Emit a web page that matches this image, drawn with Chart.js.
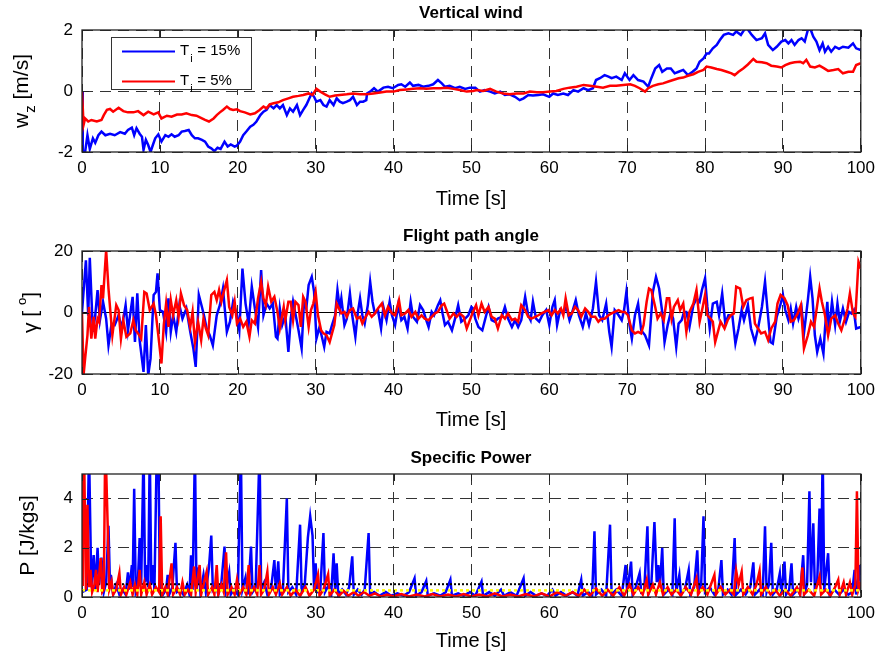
<!DOCTYPE html>
<html>
<head>
<meta charset="utf-8">
<script src="https://cdn.jsdelivr.net/npm/chart.js@4.4.1/dist/chart.umd.min.js"></script>
<style>
  html, body { margin: 0; padding: 0; background: #fff; }
  #wrap { position: relative; width: 881px; height: 661px; }
  canvas { position: absolute; left: 0; }
</style>
</head>
<body>
<div id="wrap">
  <canvas id="c1" width="881" height="220" style="top:0px"></canvas>
  <canvas id="c2" width="881" height="220" style="top:220px"></canvas>
  <canvas id="c3" width="881" height="221" style="top:440px"></canvas>
</div>
<script>
// ---- data: [time s, value] ----
const timeTicks = [0, 10, 20, 30, 40, 50, 60, 70, 80, 90, 100];
const windTicks = [-2, 0, 2];
const gammaTicks = [-20, 0, 20];
const powerTicks = [0, 2, 4];
const seriesLabels = ['15%', '5%'];

// vertical wind w_z [m/s]
const windBlue = [[0,0],[0.1,-2],[0.4,-2],[0.7,-1.45],[1.0,-1.9],[1.4,-1.55],[1.7,-1.7],[2.1,-1.45],[2.5,-1.33],[3.0,-1.45],[3.6,-1.4],[4.2,-1.45],[4.9,-1.35],[5.5,-1.4],[5.9,-1.28],[6.4,-1.2],[6.7,-1.45],[7.0,-1.22],[7.4,-1.4],[7.7,-1.5],[7.9,-1.93],[8.2,-1.6],[8.5,-1.77],[8.8,-2],[9.1,-1.77],[9.4,-1.55],[9.8,-1.42],[10.2,-1.66],[10.7,-1.45],[11.1,-1.5],[11.5,-1.42],[11.9,-1.5],[12.4,-1.45],[12.8,-1.33],[13.2,-1.31],[13.7,-1.28],[14.1,-1.45],[14.5,-1.55],[14.9,-1.55],[15.4,-1.6],[15.8,-1.66],[16.2,-1.82],[16.6,-1.88],[17.0,-1.97],[17.4,-1.86],[17.8,-1.9],[18.3,-1.66],[18.7,-1.82],[19.1,-1.75],[19.6,-1.82],[19.9,-1.79],[20.3,-1.66],[20.7,-1.45],[21.1,-1.33],[21.6,-1.17],[22.0,-1.11],[22.4,-1.0],[22.9,-0.79],[23.3,-0.68],[23.7,-0.62],[24.1,-0.46],[24.6,-0.57],[25.0,-0.46],[25.4,-0.57],[25.8,-0.46],[26.3,-0.79],[26.7,-0.57],[27.1,-0.68],[27.6,-0.46],[28.0,-0.79],[28.4,-0.62],[28.8,-0.46],[29.2,-0.24],[29.5,-0.08],[29.8,-0.19],[30.1,-0.35],[30.6,-0.3],[31.0,-0.46],[31.4,-0.51],[31.8,-0.3],[32.3,-0.46],[32.7,-0.24],[33.1,-0.35],[33.5,-0.4],[34.0,-0.35],[34.4,-0.3],[34.8,-0.19],[35.3,-0.46],[35.7,-0.35],[36.1,-0.35],[36.5,-0.3],[36.6,-0.08],[37.1,0.0],[37.5,0.09],[38.0,-0.02],[38.7,0.11],[39.3,0.14],[39.9,0.09],[40.6,0.2],[41.0,0.22],[41.5,0.14],[42.1,0.28],[42.5,0.17],[43.2,0.2],[43.8,0.14],[44.5,0.17],[45.1,0.22],[45.7,0.36],[46.2,0.25],[46.6,0.14],[47.2,0.17],[47.9,0.09],[48.5,0.14],[49.2,0.07],[49.8,0.11],[50.5,0.11],[51.1,-0.02],[51.7,0.03],[52.4,-0.02],[53.0,-0.08],[53.7,-0.02],[54.3,-0.13],[54.9,-0.11],[55.6,-0.19],[56.2,-0.3],[56.7,-0.24],[57.3,-0.13],[57.9,-0.15],[58.6,-0.13],[59.2,-0.11],[60.0,-0.19],[60.5,-0.08],[61.1,-0.13],[61.8,-0.08],[62.4,-0.13],[63.1,0.03],[63.7,-0.02],[64.4,0.09],[65.0,0.03],[65.6,0.09],[66.0,0.36],[66.5,0.42],[67.1,0.52],[67.6,0.47],[68.0,0.42],[68.6,0.47],[69.3,0.36],[69.7,0.58],[70.3,0.36],[70.8,0.52],[71.4,0.36],[72.1,0.31],[72.7,0.14],[73.1,0.42],[73.6,0.74],[74.1,0.85],[74.5,0.63],[75.1,0.74],[75.6,0.74],[76.1,0.58],[76.6,0.63],[77.2,0.69],[77.8,0.52],[78.4,0.63],[78.9,0.74],[79.3,0.96],[79.8,1.07],[80.2,1.23],[80.5,1.23],[81.0,1.4],[81.5,1.51],[81.9,1.67],[82.4,1.84],[83.0,1.89],[83.6,1.84],[84.0,1.95],[84.6,1.84],[85.0,2.0],[85.4,2.05],[86.0,1.84],[86.6,1.67],[87.3,1.73],[87.7,1.89],[88.1,1.51],[88.7,1.34],[89.2,1.45],[89.8,1.62],[90.3,1.67],[90.7,1.56],[91.1,1.67],[91.5,1.51],[92.0,1.67],[92.4,1.73],[92.8,1.62],[93.2,2.0],[93.5,2.05],[93.9,1.78],[94.3,1.62],[94.7,1.34],[95.1,1.56],[95.4,1.29],[95.8,1.45],[96.2,1.29],[96.7,1.45],[97.2,1.38],[97.7,1.45],[98.4,1.42],[99.0,1.56],[99.4,1.4],[100,1.34]];
const windRed = [[0,0],[0.2,-1.11],[0.4,-0.9],[0.8,-1.0],[1.2,-0.95],[1.9,-1.0],[2.5,-0.95],[2.8,-0.79],[3.2,-0.62],[3.6,-0.59],[4.0,-0.68],[4.7,-0.55],[5.3,-0.66],[5.9,-0.7],[6.6,-0.7],[7.2,-0.66],[7.9,-0.79],[8.5,-0.68],[9.2,-0.77],[9.8,-0.7],[10.2,-0.9],[10.9,-0.81],[11.5,-0.84],[12.2,-0.77],[12.8,-0.77],[13.4,-0.73],[14.1,-0.79],[14.7,-0.81],[15.4,-0.9],[15.8,-0.95],[16.3,-1.0],[16.9,-0.9],[17.3,-0.79],[17.7,-0.7],[18.1,-0.62],[18.6,-0.51],[19.0,-0.59],[19.4,-0.62],[19.9,-0.6],[20.3,-0.66],[20.9,-0.7],[21.6,-0.77],[22.2,-0.73],[22.8,-0.62],[23.3,-0.51],[23.7,-0.57],[24.1,-0.44],[24.6,-0.4],[25.2,-0.37],[25.8,-0.3],[26.5,-0.24],[27.1,-0.19],[27.8,-0.16],[28.4,-0.13],[29.1,-0.08],[29.6,-0.13],[30.1,0.07],[30.6,-0.02],[31.2,-0.11],[31.8,-0.19],[32.5,-0.15],[33.1,-0.13],[34.0,-0.11],[34.8,-0.08],[35.7,-0.11],[36.5,-0.11],[37.4,-0.08],[38.3,-0.05],[39.1,-0.02],[40.0,-0.02],[40.8,0.03],[41.7,0.05],[42.5,0.07],[43.4,0.09],[44.2,0.07],[45.1,0.09],[46.0,0.09],[46.8,0.11],[47.7,0.07],[48.5,0.03],[49.4,-0.02],[50.2,0.0],[50.7,0.03],[51.5,0.0],[52.4,0.07],[53.2,-0.02],[54.1,-0.08],[54.9,-0.11],[55.8,-0.08],[56.7,-0.08],[57.5,-0.02],[58.4,-0.04],[59.2,-0.04],[60.1,-0.02],[60.9,0.0],[61.8,0.07],[62.6,0.11],[63.5,0.14],[64.4,0.2],[65.2,0.17],[66.1,0.14],[66.9,0.11],[67.8,0.17],[68.6,0.17],[69.5,0.2],[70.4,0.22],[71.0,0.17],[71.6,0.09],[72.3,-0.02],[72.7,0.09],[73.3,0.17],[74.0,0.22],[74.6,0.25],[75.3,0.31],[75.9,0.36],[76.6,0.42],[77.2,0.44],[77.8,0.5],[78.5,0.55],[79.1,0.63],[79.8,0.69],[80.2,0.8],[80.8,0.77],[81.5,0.72],[82.1,0.69],[82.8,0.63],[83.4,0.58],[83.8,0.52],[84.3,0.63],[84.9,0.74],[85.5,0.87],[86.2,1.05],[86.6,0.96],[87.3,0.94],[87.9,0.91],[88.5,0.83],[89.2,0.8],[89.8,0.77],[90.3,0.85],[90.9,0.91],[91.5,0.94],[92.2,0.96],[92.6,0.91],[93.0,1.02],[93.5,0.8],[94.1,0.77],[94.7,0.83],[95.3,0.74],[95.8,0.66],[96.5,0.69],[97.1,0.72],[97.7,0.58],[98.4,0.63],[99.0,0.63],[99.4,0.85],[100,0.91]];

// flight path angle gamma [deg]
const gammaBlue = [[0,0],[0.5,17],[0.8,-1],[1.0,17.8],[1.4,-6.3],[1.7,-0.9],[2.0,7.3],[2.3,-2.5],[2.7,3.5],[3.1,-2],[3.4,-10.7],[3.8,-3.6],[4.2,-4.1],[4.7,-0.9],[5.1,-5.2],[5.6,2.4],[5.9,-5.8],[6.5,5.1],[6.8,-9.6],[7.1,6.2],[7.4,-9],[7.9,-19.3],[8.2,-4.1],[8.5,-20.4],[8.8,-15],[9.2,5.7],[9.5,6.7],[9.7,12.7],[10.0,0.8],[10.4,0.2],[10.8,-6.3],[11.1,4.6],[11.4,-6.3],[11.7,-0.9],[12.1,-6.3],[12.5,2.4],[12.9,-2],[13.4,1.3],[13.9,-6.3],[14.3,-11.7],[14.6,-17.7],[15.0,5.7],[15.4,1.8],[15.7,-1.4],[16.0,-5.2],[16.4,-7.4],[16.8,-10.7],[17.3,-0.9],[17.7,2.4],[18.1,7.8],[18.6,-6.3],[19.0,-3],[19.4,3.5],[19.9,-0.9],[20.2,-5.8],[20.6,14.3],[21.0,2.9],[21.4,-3.6],[21.8,8.4],[22.2,1.3],[22.6,-4.7],[23.0,13.8],[23.3,-0.9],[23.7,2.9],[24.1,1.3],[24.5,2.9],[24.9,-7.9],[25.1,-8.5],[25.4,1.3],[25.7,-4.1],[26.1,-0.9],[26.5,-12.8],[26.8,-2],[27.1,3.5],[27.6,-3],[27.8,-5.8],[28.2,-11.7],[28.5,3.5],[28.8,1.3],[29.1,8.9],[29.5,11.6],[29.8,6.7],[30.1,-8.5],[30.5,-4.7],[30.8,-7.9],[31.1,-11.2],[31.4,-6.3],[31.8,-6.8],[32.1,-4.1],[32.5,-0.9],[32.8,7.3],[33.1,1.3],[33.3,4.6],[33.7,-4.1],[34.0,-2],[34.4,6.2],[34.7,-0.9],[35.1,-7.9],[35.4,-0.3],[35.7,4.6],[36.0,-0.9],[36.3,-3.6],[36.7,2.4],[37.0,10],[37.3,3.5],[37.6,-0.3],[38.0,0.8],[38.4,-5.2],[38.7,1.8],[39.1,-2.5],[39.5,3.5],[39.8,-0.9],[40.2,-4.1],[40.6,2.4],[41.0,-2.5],[41.4,-1.4],[41.8,-5.2],[42.2,3.5],[42.5,-1.4],[43.0,-3],[43.4,2.4],[43.8,0.8],[44.2,-2.5],[44.5,-4.7],[44.9,0.2],[45.2,-0.9],[45.7,2.4],[46.0,4],[46.3,-0.3],[46.6,-4.1],[47.0,-3],[47.5,-5.8],[47.9,-2],[48.3,2.4],[48.7,-3],[49.2,-2],[49.6,-0.9],[50.0,1.8],[50.2,1.3],[50.5,-2],[50.9,-4.7],[51.4,-5.8],[51.9,-0.9],[52.2,1.8],[52.6,-2.5],[53.0,-3],[53.4,-2],[53.9,-1.4],[54.3,1.8],[54.7,-2],[55.2,-4.7],[55.6,-2.5],[56.0,-4.7],[56.4,-2.5],[56.9,5.1],[57.3,-0.9],[57.6,-2.5],[57.9,3.5],[58.3,-2],[58.7,-3],[59.1,-0.9],[59.6,0.8],[60.0,-4.1],[60.4,1.8],[60.7,4],[61.0,-4.1],[61.4,0.8],[61.8,-0.3],[62.2,1.8],[62.6,-2.5],[62.9,-0.3],[63.4,4],[63.8,-0.9],[64.3,-4.7],[64.7,-0.3],[65.1,-4.1],[65.6,1.3],[66.0,10],[66.4,-0.9],[66.8,-2.5],[67.3,2.9],[67.7,-6.3],[68.0,-11.2],[68.4,0.8],[68.9,-0.9],[69.3,-2.5],[69.6,0.8],[69.9,6.7],[70.3,-4.1],[70.6,-8.5],[71.0,-0.9],[71.4,2.9],[71.8,-5.8],[72.3,-7.4],[72.8,-10.7],[73.3,6.7],[73.7,11.6],[74.1,7.8],[74.5,0.2],[74.8,-9.6],[75.2,-4.1],[75.6,0.2],[75.9,-2],[76.3,-11.2],[76.6,-3.6],[77.0,-2.5],[77.3,0.2],[77.6,0.2],[78.0,-4.7],[78.5,2.4],[78.9,4.6],[79.3,3.5],[79.6,7.3],[80.0,11.1],[80.3,1.8],[80.6,-5.2],[81.0,2.9],[81.5,3.5],[81.8,-0.9],[82.2,6.2],[82.6,-3.6],[83.0,-0.9],[83.5,-0.9],[83.9,-10.1],[84.3,-5.2],[84.7,0.8],[85.0,-2.5],[85.5,2.4],[85.9,-5.2],[86.4,-9.6],[86.8,-5.2],[87.3,1.8],[87.7,10],[88.0,1.3],[88.4,-9.6],[88.7,-10.1],[89.2,-1.4],[89.6,1.8],[90.0,5.7],[90.3,0.8],[90.7,-2.5],[91.0,1.3],[91.3,-3.6],[91.7,1.8],[92.0,-2],[92.4,1.3],[92.7,-6.8],[93.2,4],[93.5,11.6],[93.8,4.6],[94.1,-7.4],[94.4,-12.8],[94.8,-8.5],[95.2,-13.4],[95.4,-5.2],[95.7,3.5],[95.9,-6.3],[96.3,3.5],[96.7,-4.1],[97.0,2.9],[97.3,-3],[97.7,1.3],[98.1,-3],[98.5,0.2],[98.8,-0.3],[99.1,0.8],[99.4,-5.2],[100,-4.7]];
const gammaRed = [[0,0],[0.2,-20.4],[0.4,-15],[0.7,-7.4],[0.9,1.8],[1.2,-8.5],[1.5,-1.4],[1.7,-8.5],[2.0,-2],[2.2,-3],[2.5,8.9],[2.7,4.6],[3.1,20.3],[3.4,7.8],[3.7,-1.4],[3.9,-7.4],[4.4,2.4],[4.7,0.8],[5.0,-8.5],[5.3,-2.5],[5.7,-7.9],[6.2,-6.8],[6.6,-2.5],[6.9,-5.8],[7.2,-6.8],[7.6,-8.5],[8.0,6.7],[8.3,6.2],[8.7,0.8],[9.2,2.9],[9.5,-0.9],[9.8,-7.4],[10.2,-16.6],[10.5,-4.1],[10.8,2.9],[11.1,-4.7],[11.4,4],[11.7,-0.9],[12.1,4],[12.4,-1.4],[12.7,6.2],[13.1,2.4],[13.5,0.8],[13.9,-4.7],[14.2,0.2],[14.5,-9.6],[14.9,-3],[15.3,-9],[15.6,-2],[15.9,-5.2],[16.2,-7.4],[16.6,5.7],[17.0,6.7],[17.3,4],[17.6,7.3],[17.9,3.5],[18.2,6.7],[18.6,10.5],[18.9,1.8],[19.3,-0.9],[19.6,3.5],[19.9,-3.6],[20.3,-2],[20.7,-4.7],[21.1,-3],[21.5,-7.9],[21.8,-2.5],[22.2,-3.6],[22.6,4.6],[23.0,10],[23.3,4.6],[23.6,2.4],[23.9,8.4],[24.3,3.5],[24.7,5.1],[25.1,0.2],[25.4,-5.2],[25.9,1.8],[26.1,-2.5],[26.5,3.5],[26.8,3.5],[27.1,-2.5],[27.4,3.5],[27.8,2.4],[28.1,-4.7],[28.4,5.1],[28.7,3.5],[29.1,-4.7],[29.4,0.8],[29.7,2.9],[30.0,6.7],[30.3,-0.9],[30.7,-5.8],[31.0,-6.8],[31.4,-7.4],[31.8,-9.6],[32.1,-6.8],[32.4,-4.1],[32.7,2.9],[33.0,1.3],[33.3,-0.3],[33.7,0.2],[34.0,-1.4],[34.4,0.8],[34.8,1.3],[35.3,-2],[35.7,-1.4],[36.0,-3.6],[36.3,-2],[36.8,0.2],[37.2,-1.4],[37.6,-0.3],[38.0,1.3],[38.5,2.9],[38.9,-0.9],[39.3,1.8],[39.8,-0.3],[40.2,-0.9],[40.7,4],[41.0,-0.9],[41.5,-0.3],[41.9,0.8],[42.3,-1.4],[42.8,0.2],[43.2,-2],[43.6,-0.9],[44.0,-2],[44.5,-2.5],[44.9,-1.4],[45.3,-0.3],[45.7,0.2],[46.2,2.4],[46.5,2.9],[46.8,0.8],[47.2,-2],[47.7,-0.3],[48.1,-1.4],[48.5,-0.3],[49.0,-1.4],[49.4,-5.2],[49.8,-2.5],[50.2,0.2],[50.6,2.4],[50.9,-0.9],[51.3,2.9],[51.7,0.2],[52.2,1.8],[52.6,-1.4],[53.0,-2],[53.4,-5.2],[53.9,-0.9],[54.3,-2],[54.7,-0.3],[55.2,-2.5],[55.6,-2],[56.0,-3],[56.4,2.4],[56.9,0.8],[57.3,-1.4],[57.7,-2],[58.2,-1.4],[58.6,-0.9],[59.0,-0.3],[59.4,0.2],[59.9,0.8],[60.3,-0.9],[60.7,0.8],[61.1,-0.3],[61.5,1.3],[61.8,-0.9],[62.1,4.6],[62.5,-0.9],[62.9,-0.3],[63.3,1.8],[63.7,0.8],[64.1,-1.4],[64.6,1.3],[65.0,0.2],[65.4,-1.4],[65.9,-1.4],[66.3,-3],[66.7,-2],[67.1,-2],[67.6,-0.9],[68.0,-0.3],[68.4,0.2],[68.9,0.8],[69.3,0.2],[69.7,0.2],[70.1,-0.9],[70.6,-5.8],[71.0,-6.8],[71.4,-6.3],[71.8,-6.8],[72.1,-4.1],[72.5,3.5],[72.8,7.8],[73.1,7.3],[73.6,1.8],[73.9,-2],[74.3,-0.3],[74.7,-2.5],[75.1,4.6],[75.4,4.6],[75.7,-2],[76.0,1.8],[76.5,4],[76.8,0.8],[77.2,2.9],[77.6,-6.3],[78.0,0.2],[78.5,2.9],[78.9,7.3],[79.3,-3],[79.7,1.8],[80.0,5.7],[80.3,-0.9],[80.7,-2],[81.0,-3],[81.3,-9.6],[81.7,-5.8],[82.0,-3],[82.5,-5.2],[82.9,-2.5],[83.3,-0.9],[83.7,-0.3],[84.0,8.4],[84.5,7.8],[84.9,1.8],[85.3,4],[85.8,4.6],[86.1,4.8],[86.4,-3.6],[86.8,-5.2],[87.2,-6.8],[87.7,-6.3],[88.1,-9],[88.5,-5.2],[89.0,-3],[89.3,2.9],[89.7,5.7],[90.2,4.6],[90.6,2.4],[91.0,-3],[91.4,-2.5],[91.9,-0.3],[92.3,2.4],[92.7,-11.7],[93.2,-7.4],[93.6,-3],[94.0,-4.7],[94.4,2.4],[94.7,7.8],[95.0,3.5],[95.4,-0.9],[95.8,-7.4],[96.2,-2],[96.7,-0.9],[97.1,-3.6],[97.5,-5.8],[97.9,-2.5],[98.3,1.3],[98.6,6.2],[99.0,-0.3],[99.3,-1.4],[99.7,16.5],[100,14.3]];

// specific power P [J/kgs]
const powerBlue = [[0,0.2],[0.6,0.3],[0.9,6],[1.2,0.4],[1.5,1.7],[1.7,0.3],[2.0,2.0],[2.2,0.5],[2.5,1.6],[2.8,0.2],[3.1,0.6],[3.4,2.9],[3.6,0.4],[3.7,0.9],[4.0,0.1],[4.4,0.5],[4.8,0.1],[5.2,0.3],[5.6,0.1],[5.9,1.0],[6.1,0.3],[6.4,1.3],[6.5,0.4],[6.7,4.4],[6.9,0.3],[7.2,0.8],[7.4,2.4],[7.6,0.5],[7.9,6],[8.1,0.6],[8.3,1.3],[8.5,0.4],[8.7,6],[8.9,0.5],[9.1,1.3],[9.3,0.3],[9.6,6],[9.8,6],[10.0,0.3],[10.4,0.1],[10.8,0.3],[11.0,0.9],[11.2,0.1],[11.6,0.4],[12.0,2.2],[12.2,0.2],[12.6,0.3],[13.0,0.1],[13.5,0.5],[13.8,0.1],[14.0,1.7],[14.2,0.3],[14.5,6],[14.7,0.3],[15.0,1.2],[15.2,0.2],[15.6,0.9],[15.9,0.2],[16.3,1.2],[16.6,2.5],[16.8,0.3],[17.2,0.5],[17.5,0.1],[17.9,0.6],[18.3,2.05],[18.5,0.3],[18.9,1.0],[19.1,0.1],[19.5,0.3],[20.0,0.1],[20.4,6],[20.6,0.3],[21.0,0.8],[21.3,0.1],[21.7,2.05],[21.9,0.2],[22.3,0.4],[22.8,6],[23.0,0.3],[23.4,0.6],[23.8,0.1],[24.3,0.4],[24.7,1.5],[24.9,0.2],[25.2,1.45],[25.4,0.1],[25.8,0.3],[26.3,4.0],[26.5,0.2],[27.0,0.4],[27.5,0.1],[28.0,2.94],[28.2,0.2],[28.6,0.5],[29.0,2.4],[29.3,3.28],[29.6,2.5],[29.8,0.3],[30.0,1.37],[30.2,0.2],[30.6,0.3],[31.0,2.6],[31.2,0.2],[31.7,0.5],[32.0,0.1],[32.3,1.78],[32.5,0.3],[32.7,1.37],[32.9,0.1],[33.4,0.3],[33.9,0.1],[34.3,0.4],[34.7,1.65],[34.9,0.1],[35.4,0.3],[35.9,0.1],[36.3,0.3],[36.8,2.6],[37.0,0.1],[37.5,0.2],[38.2,0.05],[39.0,0.2],[39.7,0.05],[40.5,0.15],[41.3,0.05],[42.0,0.2],[42.7,0.76],[42.9,0.05],[43.6,0.2],[44.2,0.65],[44.4,0.05],[45.2,0.15],[46.0,0.05],[46.7,0.2],[47.3,0.7],[47.5,0.05],[48.3,0.15],[49.0,0.05],[49.8,0.2],[50.5,0.05],[51.3,0.63],[51.5,0.05],[52.3,0.2],[53.0,0.05],[53.8,0.3],[54.2,0.05],[55.0,0.2],[55.8,0.05],[56.7,0.76],[56.9,0.05],[57.6,0.2],[58.3,0.05],[59.0,0.15],[59.7,0.05],[60.4,0.3],[60.8,0.05],[61.5,0.2],[62.2,0.05],[63.0,0.2],[63.6,0.05],[64.1,0.7],[64.3,0.05],[65.0,0.2],[65.5,0.05],[65.8,2.67],[66.0,0.1],[66.7,0.3],[67.3,0.05],[67.8,2.94],[68.0,0.1],[68.6,0.3],[69.3,0.05],[69.8,1.3],[70.0,0.2],[70.5,1.44],[70.7,0.1],[71.1,0.4],[71.6,0.97],[71.8,0.2],[72.2,0.3],[72.6,2.87],[72.8,0.2],[73.1,0.5],[73.5,3.05],[73.8,0.6],[74.0,1.3],[74.2,0.4],[74.5,2.0],[74.7,0.1],[75.3,0.3],[75.8,0.1],[76.1,3.2],[76.3,0.2],[76.7,0.9],[76.9,0.1],[77.4,0.3],[77.9,1.1],[78.1,0.1],[78.6,0.4],[79.0,1.9],[79.2,0.3],[79.5,0.5],[79.8,3.28],[80.0,0.2],[80.6,0.4],[81.2,0.1],[81.7,0.3],[82.1,1.5],[82.3,0.1],[82.9,0.3],[83.4,0.1],[83.8,2.4],[84.0,0.1],[84.6,0.3],[85.2,0.1],[85.8,0.4],[86.2,1.41],[86.4,0.1],[87.0,0.3],[87.4,0.1],[87.7,2.87],[87.9,0.2],[88.2,0.5],[88.5,2.2],[88.7,0.1],[89.2,0.3],[89.6,0.97],[89.8,0.1],[90.2,1.44],[90.4,0.1],[90.8,0.3],[91.1,1.37],[91.3,0.1],[91.9,0.3],[92.2,0.1],[92.6,1.7],[92.8,0.2],[93.1,0.5],[93.4,4.3],[93.6,0.6],[93.9,3.0],[94.1,0.3],[94.4,0.6],[94.7,3.6],[94.9,0.5],[95.1,6],[95.3,0.3],[95.8,1.78],[96.0,0.1],[96.6,0.3],[97.2,0.1],[97.8,0.3],[98.4,0.1],[98.9,0.2],[99.2,1.1],[99.4,0.1],[99.9,1.3],[100,0.4]];
const powerRed = [[0,0.5],[0.1,5.2],[0.3,5.2],[0.5,0.3],[0.7,3.75],[0.9,0.4],[1.1,1.1],[1.3,0.2],[1.6,0.5],[1.8,1.1],[2.0,0.2],[2.4,1.58],[2.6,0.2],[2.8,0.3],[2.95,5.2],[3.1,5.2],[3.3,2.87],[3.5,0.3],[3.8,0.63],[4.0,0.1],[4.4,0.3],[4.8,0.97],[5.0,0.1],[5.4,0.4],[5.7,0.1],[6.2,0.6],[6.5,0.1],[6.8,0.5],[7.1,0.1],[7.4,1.1],[7.6,0.1],[8.0,0.6],[8.3,0.1],[8.7,0.5],[9.0,0.1],[9.5,0.4],[9.9,0.2],[10.1,3.28],[10.3,0.1],[10.7,0.4],[11.0,0.1],[11.5,1.37],[11.7,0.1],[12.2,0.4],[12.6,0.1],[12.9,0.6],[13.2,0.1],[13.6,0.3],[14.0,0.1],[14.4,1.24],[14.6,0.2],[15.1,1.3],[15.3,0.1],[15.6,0.5],[16.0,1.03],[16.2,0.1],[16.7,0.4],[17.0,0.1],[17.3,1.3],[17.5,0.1],[17.9,0.5],[18.2,0.2],[18.5,1.82],[18.7,0.1],[19.2,0.4],[19.6,0.1],[19.9,0.7],[20.2,0.1],[20.7,0.4],[21.1,0.1],[21.4,1.3],[21.6,0.1],[22.1,0.4],[22.5,0.1],[22.8,1.3],[23.0,0.1],[23.4,0.3],[23.8,1.03],[24.0,0.1],[24.5,0.4],[24.9,0.1],[25.4,0.55],[25.7,0.1],[26.3,0.4],[26.8,0.05],[27.4,0.3],[28.0,0.05],[28.7,0.4],[29.2,0.05],[29.8,0.3],[30.3,0.9],[30.5,0.05],[31.0,0.3],[31.6,0.92],[31.8,0.05],[32.4,0.3],[33.0,0.05],[33.6,0.25],[34.2,0.05],[34.9,0.2],[35.5,0.05],[36.2,0.2],[36.9,0.05],[37.6,0.15],[38.4,0.02],[39.2,0.1],[40.0,0.02],[41.0,0.12],[42.0,0.02],[43.0,0.1],[44.0,0.02],[45.0,0.12],[46.0,0.02],[47.0,0.1],[48.0,0.02],[49.0,0.12],[50.0,0.02],[51.0,0.1],[52.0,0.02],[53.0,0.15],[54.0,0.02],[55.0,0.1],[56.0,0.02],[57.0,0.12],[58.0,0.02],[59.0,0.15],[60.0,0.02],[61.0,0.2],[62.0,0.05],[63.0,0.2],[63.8,0.05],[64.5,0.3],[65.2,0.05],[66.0,0.35],[66.8,0.05],[67.5,0.3],[68.2,0.05],[69.0,0.4],[69.6,0.05],[70.3,0.5],[70.8,0.1],[71.4,0.4],[72.0,0.1],[72.5,0.7],[72.7,0.1],[73.3,0.5],[73.7,0.1],[74.2,0.6],[74.6,0.1],[75.2,0.4],[75.7,0.1],[76.3,0.3],[76.9,0.05],[77.5,0.4],[78.2,0.1],[78.9,0.76],[79.1,0.1],[79.7,0.4],[80.3,0.1],[81.2,0.9],[81.4,0.1],[82.0,0.4],[82.6,0.1],[83.2,0.3],[83.7,0.1],[84.0,1.06],[84.3,0.5],[84.7,1.03],[84.9,0.1],[85.5,0.4],[86.1,0.1],[86.6,0.5],[87.0,1.06],[87.2,0.1],[87.8,0.4],[88.4,0.1],[89.0,0.3],[89.6,0.05],[90.3,0.3],[91.0,0.05],[91.8,0.4],[92.2,0.1],[92.5,1.2],[92.7,0.1],[93.3,0.3],[94.0,0.05],[94.7,0.83],[94.9,0.1],[95.5,0.3],[96.1,0.05],[96.7,0.4],[97.1,0.7],[97.3,0.1],[97.8,0.6],[98.1,0.1],[98.6,0.6],[98.9,0.1],[99.3,0.5],[99.5,4.3],[99.7,0.3],[100,0.6]];
const powerLevelBlue = 0.52;  // black dotted
const powerLevelRed = 0.27;   // yellow dotted

const FONT = '"Liberation Sans", Arial, Helvetica, sans-serif';
const toXY = arr => arr.map(p => ({ x: p[0], y: p[1] }));
const flat = (v) => [{ x: 0, y: v }, { x: 100, y: v }];

function series(data, color, order, extra) {
    return Object.assign({
        data: data,
        borderColor: color,
        borderWidth: 2.5,
        pointRadius: 0,
        tension: 0,
        fill: false,
        clip: 0,
        order: order
    }, extra || {});
}

// plugin: axes box, inward ticks, titles and axis labels
function decorPlugin(cfg) {
    return {
        id: 'decor',
        afterDraw(chart) {
            const ctx = chart.ctx;
            const a = chart.chartArea;
            const xs = chart.scales.x, ys = chart.scales.y;
            ctx.save();
            ctx.strokeStyle = '#222';
            ctx.lineWidth = 1;
            // inward ticks
            ctx.beginPath();
            timeTicks.forEach(t => {
                const px = Math.round(xs.getPixelForValue(t)) + 0.5;
                ctx.moveTo(px, a.bottom); ctx.lineTo(px, a.bottom - 7);
                ctx.moveTo(px, a.top); ctx.lineTo(px, a.top + 7);
            });
            cfg.yTicks.forEach(v => {
                const py = Math.round(ys.getPixelForValue(v)) + 0.5;
                ctx.moveTo(a.left, py); ctx.lineTo(a.left + 7, py);
                ctx.moveTo(a.right, py); ctx.lineTo(a.right - 7, py);
            });
            ctx.stroke();
            ctx.lineWidth = 1.3;
            ctx.strokeRect(a.left, a.top, a.right - a.left, a.bottom - a.top);

            ctx.fillStyle = '#000';
            ctx.textAlign = 'center';
            ctx.textBaseline = 'middle';
            ctx.font = 'bold 17px ' + FONT;
            ctx.fillText(cfg.title, 471, cfg.titleY);
            ctx.font = '20px ' + FONT;
            ctx.fillText('Time [s]', 471, cfg.xLabelY);

            // rotated y label
            ctx.save();
            ctx.translate(cfg.yLabelX, (a.top + a.bottom) / 2);
            ctx.rotate(-Math.PI / 2);
            cfg.yLabel(ctx);
            ctx.restore();

            if (cfg.legend) cfg.legend(ctx);
            ctx.restore();
        }
    };
}

function drawParts(ctx, parts) {
    // parts: [text, size, dy] drawn centred as a run
    let total = 0;
    parts.forEach(p => { ctx.font = p[1] + 'px ' + FONT; total += ctx.measureText(p[0]).width; });
    let x = -total / 2;
    ctx.textAlign = 'left';
    parts.forEach(p => {
        ctx.font = p[1] + 'px ' + FONT;
        ctx.fillText(p[0], x, p[2]);
        x += ctx.measureText(p[0]).width;
    });
}

function makeChart(id, datasets, opt) {
    const el = document.getElementById(id);
    return new Chart(el.getContext('2d'), {
        type: 'line',
        data: { datasets: datasets },
        options: {
            responsive: false,
            animation: false,
            devicePixelRatio: 1,
            layout: { padding: { top: opt.padTop, right: 20, left: 0, bottom: 0 } },
            plugins: { legend: { display: false }, tooltip: { enabled: false }, title: { display: false } },
            scales: {
                x: {
                    type: 'linear', min: 0, max: 100,
                    afterBuildTicks: s => { s.ticks = timeTicks.map(v => ({ value: v })); },
                    afterFit: s => { s.height = opt.xHeight; },
                    ticks: { color: '#000', font: { family: FONT, size: 17 }, padding: 6, maxRotation: 0, autoSkip: false },
                    grid: { color: '#333', lineWidth: 1, drawTicks: false },
                    border: { display: false, dash: [11, 7] }
                },
                y: {
                    type: 'linear', min: opt.yMin, max: opt.yMax,
                    afterBuildTicks: s => { s.ticks = opt.yTicks.map(v => ({ value: v })); },
                    afterFit: s => { s.width = 82; },
                    ticks: { color: '#000', font: { family: FONT, size: 17 }, padding: 9 },
                    grid: { color: '#333', lineWidth: 1, drawTicks: false },
                    border: { display: false, dash: [11, 7] }
                }
            }
        },
        plugins: [decorPlugin(opt)]
    });
}

// --- subplot 1: vertical wind ---
makeChart('c1', [
    series(toXY(windRed), '#ff0000', 0),
    series(toXY(windBlue), '#0000ff', 1)
], {
    padTop: 30, xHeight: 68, yMin: -2, yMax: 2, yTicks: windTicks,
    title: 'Vertical wind', titleY: 13, xLabelY: 199, yLabelX: 22,
    yLabel(ctx) { drawParts(ctx, [['w', 21, 0], ['z', 15, 9], [' [m/s]', 21, 0]]); },
    legend(ctx) {
        ctx.fillStyle = '#fff';
        ctx.fillRect(111, 37, 140, 52);
        ctx.strokeStyle = '#333';
        ctx.lineWidth = 1;
        ctx.strokeRect(111.5, 37.5, 140, 52);
        const rows = [['#0000ff', 52, seriesLabels[0]], ['#ff0000', 82, seriesLabels[1]]];
        rows.forEach(r => {
            ctx.strokeStyle = r[0];
            ctx.lineWidth = 2;
            ctx.beginPath(); ctx.moveTo(122, r[1] - 0.5); ctx.lineTo(175, r[1] - 0.5); ctx.stroke();
            ctx.fillStyle = '#000';
            ctx.textAlign = 'left';
            ctx.textBaseline = 'middle';
            ctx.font = '15px ' + FONT;
            ctx.fillText('T', 180, r[1] - 1);
            const wT = ctx.measureText('T').width;
            ctx.font = '11px ' + FONT;
            ctx.fillText('i', 180 + wT + 1, r[1] + 7);
            ctx.font = '15px ' + FONT;
            ctx.fillText(' = ' + r[2], 180 + wT + 4, r[1] - 1);
        });
    }
});

// --- subplot 2: flight path angle ---
makeChart('c2', [
    series(toXY(gammaRed), '#ff0000', 0),
    series(toXY(gammaBlue), '#0000ff', 1),
    series(flat(0), '#000000', 2, { borderWidth: 1.2 })
], {
    padTop: 31, xHeight: 66, yMin: -20, yMax: 20, yTicks: gammaTicks,
    title: 'Flight path angle', titleY: 16, xLabelY: 200, yLabelX: 31,
    yLabel(ctx) { drawParts(ctx, [['\u03b3 [ ', 21, 0], ['o', 13, -9], [']', 21, 0]]); }
});

// --- subplot 3: specific power ---
makeChart('c3', [
    series(flat(powerLevelRed), '#ffff00', 0, { borderWidth: 2.5, borderDash: [3, 3] }),
    series(toXY(powerRed), '#ff0000', 1),
    series(flat(powerLevelBlue), '#000000', 2, { borderWidth: 2, borderDash: [2, 2] }),
    series(toXY(powerBlue), '#0000ff', 3)
], {
    padTop: 34, xHeight: 64, yMin: 0, yMax: 5, yTicks: powerTicks,
    title: 'Specific Power', titleY: 18, xLabelY: 201, yLabelX: 28,
    yLabel(ctx) { drawParts(ctx, [['P [J/kgs]', 21, 0]]); }
});
</script>
</body>
</html>
